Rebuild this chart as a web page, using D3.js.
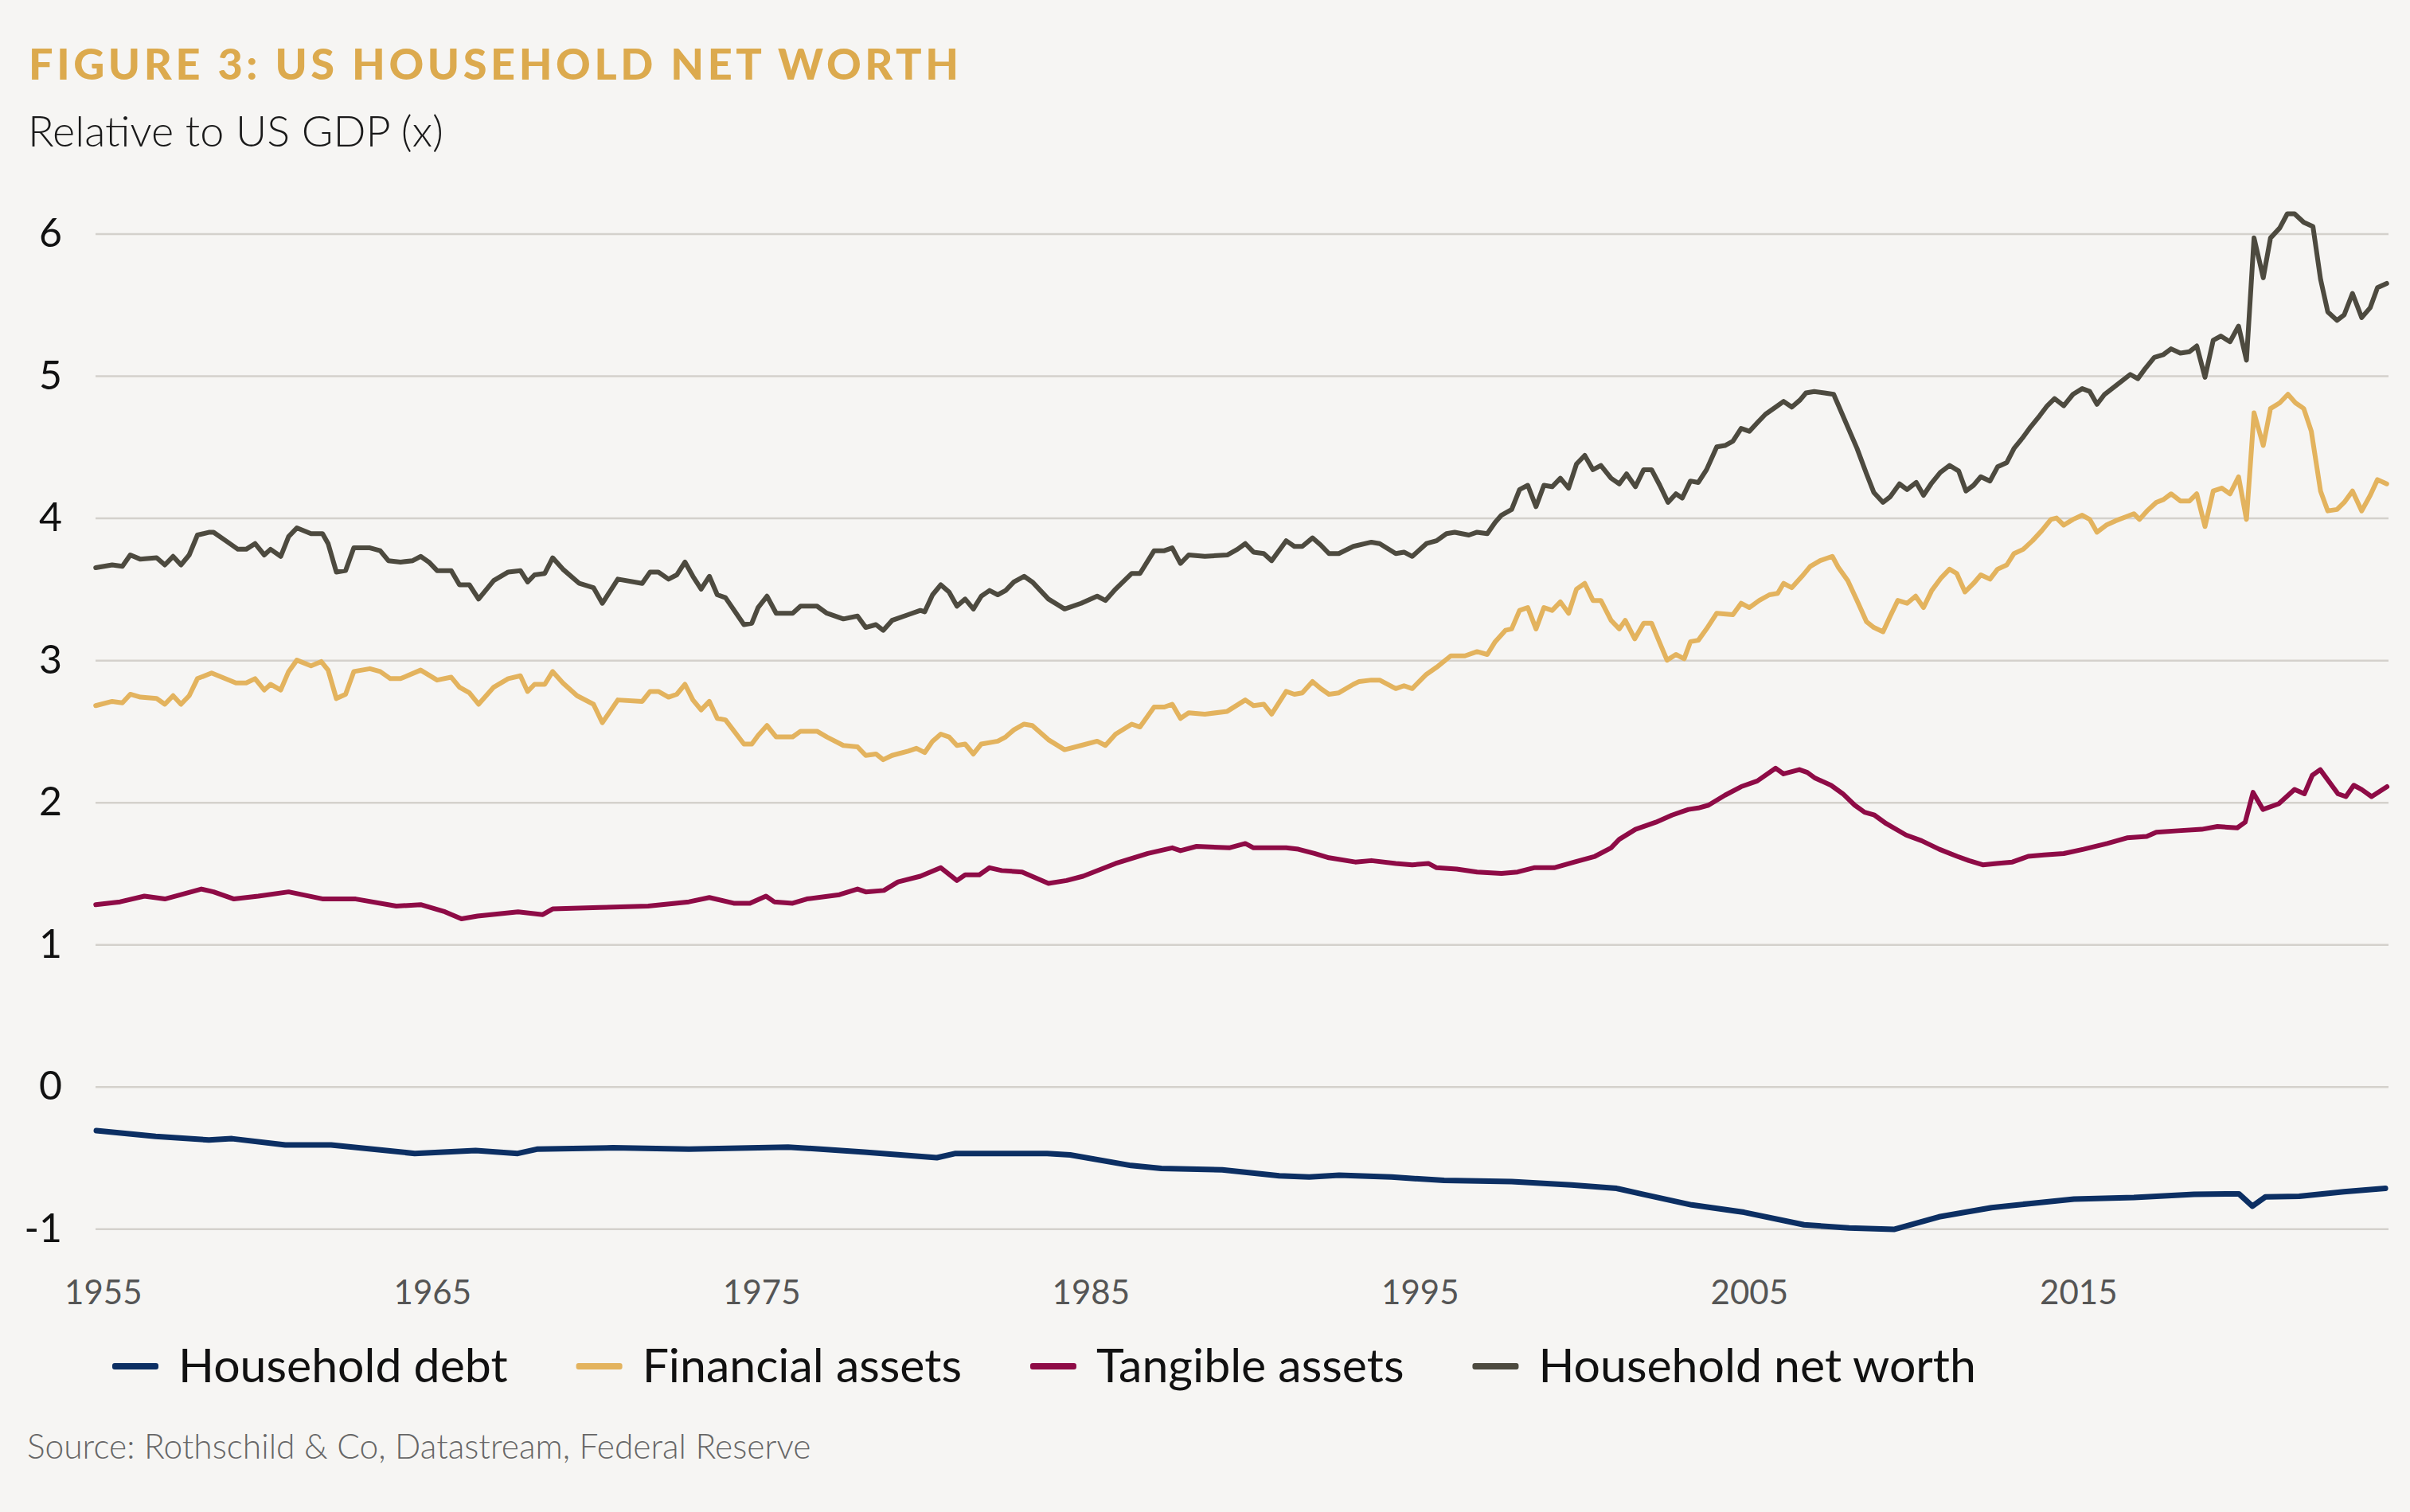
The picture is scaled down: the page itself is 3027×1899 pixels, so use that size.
<!DOCTYPE html>
<html>
<head>
<meta charset="utf-8">
<script src="https://cdn.jsdelivr.net/npm/d3@7"></script>
<style>
  body { margin: 0; background: #f6f5f3; }
  svg { display: block; }
</style>
</head>
<body>
<div class="container"></div>
<script>
const width = 3027;
const height = 1899;

const yTicks = [-1, 0, 1, 2, 3, 4, 5, 6];
const xTicks = [1955, 1965, 1975, 1985, 1995, 2005, 2015];

const seriesNames = ["Household debt", "Financial assets", "Tangible assets", "Household net worth"];
const seriesColors = ["#0c2f63", "#e3b35e", "#8e0b46", "#4d4a3f"];

// [year, multiple of GDP]
const householdDebt = [
  [1954.80,-0.31],[1956.60,-0.35],[1958.22,-0.375],[1958.92,-0.366],[1960.54,-0.41],[1961.93,-0.41],
  [1964.47,-0.47],[1966.32,-0.45],[1967.60,-0.47],[1968.18,-0.44],[1970.49,-0.43],[1972.80,-0.44],
  [1975.81,-0.425],[1978.13,-0.46],[1980.33,-0.50],[1980.90,-0.47],[1983.68,-0.47],[1984.38,-0.48],
  [1986.23,-0.555],[1987.15,-0.575],[1989.00,-0.585],[1990.73,-0.627],[1991.64,-0.636],[1992.55,-0.623],
  [1994.14,-0.636],[1995.74,-0.66],[1997.79,-0.668],[1999.61,-0.692],[2000.98,-0.716],[2001.77,-0.757],
  [2003.26,-0.832],[2004.85,-0.884],[2006.67,-0.972],[2008.04,-0.994],[2009.40,-1.004],[2010.77,-0.916],
  [2012.37,-0.851],[2013.51,-0.823],[2014.87,-0.791],[2016.69,-0.78],[2018.52,-0.757],[2019.88,-0.754],
  [2020.29,-0.841],[2020.68,-0.776],[2021.71,-0.772],[2023.07,-0.739],[2024.33,-0.716]
];

const financialAssets = [
  [1954.78,2.68],[1955.28,2.71],[1955.59,2.70],[1955.83,2.76],[1956.14,2.74],[1956.63,2.73],[1956.88,2.69],
  [1957.13,2.75],[1957.37,2.69],[1957.62,2.75],[1957.87,2.87],[1958.30,2.91],[1959.04,2.84],[1959.35,2.84],
  [1959.62,2.87],[1959.90,2.79],[1960.09,2.83],[1960.40,2.79],[1960.64,2.92],[1960.89,3.00],[1961.32,2.96],
  [1961.63,2.99],[1961.84,2.93],[1962.09,2.73],[1962.37,2.76],[1962.62,2.92],[1963.11,2.94],[1963.42,2.92],
  [1963.73,2.87],[1964.04,2.87],[1964.65,2.93],[1965.15,2.86],[1965.58,2.88],[1965.83,2.81],[1966.13,2.77],
  [1966.41,2.69],[1966.87,2.81],[1967.31,2.87],[1967.68,2.89],[1967.90,2.78],[1968.11,2.83],[1968.42,2.83],
  [1968.66,2.92],[1968.97,2.84],[1969.40,2.75],[1969.90,2.69],[1970.17,2.56],[1970.64,2.72],[1971.38,2.71],
  [1971.62,2.78],[1971.87,2.78],[1972.18,2.74],[1972.43,2.76],[1972.68,2.83],[1972.92,2.72],[1973.17,2.65],
  [1973.42,2.71],[1973.66,2.59],[1973.91,2.58],[1974.47,2.41],[1974.71,2.41],[1974.90,2.47],[1975.17,2.54],
  [1975.45,2.46],[1975.95,2.46],[1976.19,2.50],[1976.69,2.50],[1976.99,2.46],[1977.49,2.40],[1977.92,2.39],
  [1978.17,2.33],[1978.48,2.34],[1978.70,2.30],[1978.97,2.33],[1979.46,2.36],[1979.71,2.38],[1979.96,2.35],
  [1980.20,2.43],[1980.45,2.48],[1980.70,2.46],[1980.94,2.40],[1981.19,2.41],[1981.44,2.34],[1981.68,2.41],
  [1982.18,2.43],[1982.42,2.46],[1982.67,2.51],[1982.98,2.55],[1983.23,2.54],[1983.72,2.44],[1984.21,2.37],
  [1984.71,2.40],[1985.20,2.43],[1985.45,2.40],[1985.76,2.48],[1986.25,2.55],[1986.50,2.53],[1986.93,2.67],
  [1987.24,2.67],[1987.48,2.69],[1987.73,2.59],[1987.98,2.63],[1988.47,2.62],[1989.15,2.64],[1989.70,2.72],
  [1989.95,2.68],[1990.26,2.69],[1990.50,2.62],[1990.94,2.78],[1991.19,2.76],[1991.43,2.77],[1991.74,2.85],
  [1991.99,2.80],[1992.24,2.76],[1992.54,2.77],[1992.98,2.83],[1993.16,2.85],[1993.53,2.86],[1993.78,2.86],
  [1994.27,2.80],[1994.52,2.82],[1994.77,2.80],[1995.20,2.90],[1995.51,2.95],[1995.94,3.03],[1996.37,3.03],
  [1996.74,3.06],[1997.05,3.04],[1997.29,3.13],[1997.60,3.21],[1997.79,3.22],[1998.03,3.35],[1998.28,3.37],
  [1998.53,3.22],[1998.77,3.37],[1999.02,3.35],[1999.27,3.41],[1999.52,3.33],[1999.76,3.50],[2000.01,3.54],
  [2000.26,3.42],[2000.50,3.42],[2000.81,3.28],[2001.06,3.22],[2001.24,3.28],[2001.53,3.15],[2001.80,3.26],
  [2002.04,3.26],[2002.29,3.12],[2002.51,3.00],[2002.78,3.04],[2003.03,3.01],[2003.22,3.13],[2003.46,3.14],
  [2003.71,3.22],[2004.02,3.33],[2004.51,3.32],[2004.76,3.40],[2005.01,3.37],[2005.31,3.42],[2005.62,3.46],
  [2005.87,3.47],[2006.05,3.54],[2006.30,3.51],[2006.61,3.59],[2006.86,3.66],[2007.16,3.70],[2007.53,3.73],
  [2007.72,3.65],[2008.00,3.56],[2008.28,3.42],[2008.57,3.27],[2008.79,3.23],[2009.07,3.20],[2009.29,3.31],
  [2009.52,3.42],[2009.80,3.40],[2010.06,3.45],[2010.30,3.37],[2010.55,3.49],[2010.84,3.58],[2011.09,3.64],
  [2011.31,3.61],[2011.56,3.48],[2011.82,3.54],[2012.04,3.60],[2012.32,3.57],[2012.55,3.64],[2012.83,3.67],
  [2013.05,3.75],[2013.33,3.78],[2013.61,3.84],[2013.89,3.91],[2014.17,3.99],[2014.34,4.00],[2014.56,3.95],
  [2014.84,3.99],[2015.12,4.02],[2015.35,3.99],[2015.57,3.90],[2015.85,3.95],[2016.13,3.98],[2016.47,4.01],
  [2016.69,4.03],[2016.86,3.99],[2017.09,4.05],[2017.37,4.11],[2017.59,4.13],[2017.82,4.17],[2018.10,4.12],
  [2018.38,4.12],[2018.60,4.17],[2018.85,3.94],[2019.10,4.19],[2019.36,4.21],[2019.61,4.17],[2019.87,4.29],
  [2020.11,3.99],[2020.34,4.74],[2020.62,4.51],[2020.84,4.77],[2021.12,4.81],[2021.37,4.87],[2021.60,4.81],
  [2021.85,4.77],[2022.08,4.61],[2022.36,4.19],[2022.58,4.05],[2022.86,4.06],[2023.08,4.11],[2023.33,4.19],
  [2023.61,4.05],[2023.87,4.16],[2024.09,4.27],[2024.37,4.24]
];

const tangibleAssets = [
  [1954.78,1.28],[1955.52,1.30],[1956.26,1.34],[1956.88,1.32],[1957.37,1.35],[1957.99,1.39],[1958.36,1.37],
  [1958.98,1.32],[1959.72,1.34],[1960.64,1.37],[1961.69,1.32],[1962.68,1.32],[1963.91,1.27],[1964.65,1.28],
  [1965.39,1.23],[1965.89,1.18],[1966.38,1.20],[1967.61,1.23],[1968.36,1.21],[1968.66,1.25],[1970.08,1.26],
  [1971.56,1.27],[1972.80,1.30],[1973.42,1.33],[1974.16,1.29],[1974.65,1.29],[1975.14,1.34],[1975.39,1.30],
  [1975.95,1.29],[1976.38,1.32],[1977.37,1.35],[1977.92,1.39],[1978.17,1.37],[1978.72,1.38],[1979.15,1.44],
  [1979.83,1.48],[1980.45,1.54],[1980.94,1.45],[1981.19,1.49],[1981.62,1.49],[1981.93,1.54],[1982.30,1.52],
  [1982.92,1.51],[1983.72,1.43],[1984.27,1.45],[1984.77,1.48],[1985.76,1.57],[1986.74,1.64],[1987.48,1.68],
  [1987.73,1.66],[1988.22,1.69],[1989.21,1.68],[1989.70,1.71],[1989.95,1.68],[1990.94,1.68],[1991.31,1.67],
  [1991.80,1.64],[1992.24,1.61],[1993.04,1.58],[1993.53,1.59],[1994.27,1.57],[1994.77,1.56],[1995.26,1.57],
  [1995.51,1.54],[1996.12,1.53],[1996.74,1.51],[1997.48,1.50],[1997.97,1.51],[1998.47,1.54],[1999.08,1.54],
  [1999.70,1.58],[2000.32,1.62],[2000.81,1.68],[2001.06,1.74],[2001.55,1.81],[2002.17,1.86],[2002.66,1.91],
  [2003.16,1.95],[2003.46,1.96],[2003.77,1.98],[2004.27,2.05],[2004.76,2.11],[2005.25,2.15],[2005.81,2.24],
  [2006.05,2.20],[2006.53,2.23],[2006.77,2.21],[2007.01,2.17],[2007.49,2.12],[2007.85,2.06],[2008.21,1.98],
  [2008.51,1.93],[2008.81,1.91],[2009.17,1.85],[2009.77,1.77],[2010.24,1.73],[2010.78,1.67],[2011.32,1.62],
  [2011.68,1.59],[2012.10,1.56],[2012.52,1.57],[2013.00,1.58],[2013.48,1.62],[2013.96,1.63],[2014.56,1.64],
  [2015.16,1.67],[2015.88,1.71],[2016.48,1.75],[2017.08,1.76],[2017.37,1.79],[2018.03,1.80],[2018.75,1.81],
  [2019.23,1.83],[2019.83,1.82],[2020.07,1.86],[2020.31,2.07],[2020.61,1.95],[2021.09,1.99],[2021.57,2.09],
  [2021.87,2.06],[2022.11,2.19],[2022.35,2.23],[2022.89,2.06],[2023.13,2.04],[2023.37,2.12],[2023.61,2.09],
  [2023.91,2.04],[2024.38,2.11]
];

const netWorth = [
  [1954.78,3.65],[1955.28,3.67],[1955.59,3.66],[1955.83,3.74],[1956.14,3.71],[1956.63,3.72],[1956.88,3.67],
  [1957.13,3.73],[1957.37,3.67],[1957.62,3.74],[1957.87,3.88],[1958.24,3.90],[1958.36,3.90],[1958.73,3.84],
  [1959.10,3.78],[1959.35,3.78],[1959.62,3.82],[1959.90,3.74],[1960.09,3.78],[1960.40,3.73],[1960.64,3.87],
  [1960.89,3.93],[1961.32,3.89],[1961.67,3.89],[1961.84,3.82],[1962.09,3.62],[1962.37,3.63],[1962.62,3.79],
  [1963.11,3.79],[1963.42,3.77],[1963.67,3.70],[1964.04,3.69],[1964.41,3.70],[1964.65,3.73],[1964.90,3.69],
  [1965.15,3.63],[1965.58,3.63],[1965.83,3.53],[1966.13,3.53],[1966.41,3.43],[1966.87,3.56],[1967.31,3.62],
  [1967.68,3.63],[1967.90,3.55],[1968.11,3.60],[1968.42,3.61],[1968.66,3.72],[1968.97,3.64],[1969.47,3.54],
  [1969.90,3.51],[1970.17,3.40],[1970.64,3.57],[1971.38,3.54],[1971.62,3.62],[1971.87,3.62],[1972.18,3.57],
  [1972.43,3.60],[1972.68,3.69],[1972.92,3.59],[1973.17,3.50],[1973.42,3.59],[1973.66,3.46],[1973.91,3.44],
  [1974.47,3.25],[1974.71,3.26],[1974.90,3.37],[1975.17,3.45],[1975.45,3.33],[1975.95,3.33],[1976.19,3.38],
  [1976.69,3.38],[1976.99,3.33],[1977.49,3.29],[1977.92,3.31],[1978.17,3.23],[1978.48,3.25],[1978.70,3.21],
  [1978.97,3.28],[1979.46,3.32],[1979.83,3.35],[1979.96,3.34],[1980.20,3.46],[1980.45,3.53],[1980.70,3.48],
  [1980.94,3.38],[1981.19,3.43],[1981.44,3.36],[1981.68,3.45],[1981.93,3.49],[1982.18,3.46],[1982.42,3.49],
  [1982.67,3.55],[1982.98,3.59],[1983.23,3.55],[1983.72,3.43],[1984.21,3.36],[1984.71,3.40],[1985.20,3.45],
  [1985.45,3.42],[1985.76,3.50],[1986.25,3.61],[1986.50,3.61],[1986.93,3.77],[1987.24,3.77],[1987.48,3.79],
  [1987.73,3.68],[1987.98,3.74],[1988.47,3.73],[1989.15,3.74],[1989.46,3.78],[1989.70,3.82],[1989.95,3.76],
  [1990.26,3.75],[1990.50,3.70],[1990.94,3.84],[1991.19,3.80],[1991.43,3.80],[1991.74,3.86],[1991.99,3.81],
  [1992.24,3.75],[1992.54,3.75],[1992.98,3.80],[1993.53,3.83],[1993.78,3.82],[1994.27,3.75],[1994.52,3.76],
  [1994.77,3.73],[1995.20,3.82],[1995.51,3.84],[1995.81,3.89],[1996.06,3.90],[1996.49,3.88],[1996.74,3.90],
  [1997.05,3.89],[1997.29,3.97],[1997.48,4.02],[1997.79,4.06],[1998.03,4.20],[1998.28,4.23],[1998.53,4.08],
  [1998.77,4.23],[1999.02,4.22],[1999.27,4.28],[1999.52,4.21],[1999.76,4.38],[2000.01,4.44],[2000.26,4.34],
  [2000.50,4.37],[2000.81,4.28],[2001.06,4.24],[2001.28,4.31],[2001.55,4.22],[2001.80,4.34],[2002.04,4.34],
  [2002.29,4.23],[2002.54,4.11],[2002.78,4.17],[2002.97,4.14],[2003.22,4.26],[2003.46,4.25],[2003.71,4.34],
  [2004.02,4.50],[2004.27,4.51],[2004.51,4.54],[2004.76,4.63],[2005.01,4.61],[2005.25,4.67],[2005.50,4.73],
  [2005.81,4.78],[2006.05,4.82],[2006.30,4.78],[2006.55,4.83],[2006.73,4.88],[2006.98,4.89],[2007.29,4.88],
  [2007.57,4.87],[2007.72,4.79],[2008.00,4.64],[2008.28,4.49],[2008.57,4.31],[2008.79,4.18],[2009.07,4.11],
  [2009.29,4.15],[2009.57,4.24],[2009.80,4.20],[2010.08,4.25],[2010.30,4.16],[2010.53,4.24],[2010.81,4.32],
  [2011.09,4.37],[2011.37,4.33],[2011.59,4.19],[2011.82,4.23],[2012.04,4.29],[2012.32,4.26],[2012.55,4.36],
  [2012.83,4.39],[2013.05,4.49],[2013.33,4.57],[2013.55,4.64],[2013.83,4.72],[2014.06,4.79],[2014.28,4.84],
  [2014.56,4.79],[2014.84,4.87],[2015.12,4.91],[2015.35,4.89],[2015.57,4.80],[2015.80,4.87],[2016.08,4.92],
  [2016.36,4.97],[2016.58,5.01],[2016.81,4.98],[2017.03,5.05],[2017.31,5.13],[2017.59,5.15],[2017.82,5.19],
  [2018.10,5.16],[2018.38,5.17],[2018.60,5.21],[2018.85,4.99],[2019.10,5.25],[2019.33,5.28],[2019.61,5.24],
  [2019.87,5.35],[2020.11,5.11],[2020.34,5.97],[2020.62,5.69],[2020.84,5.97],[2021.12,6.04],[2021.35,6.14],
  [2021.57,6.14],[2021.85,6.08],[2022.13,6.05],[2022.36,5.68],[2022.58,5.45],[2022.86,5.39],[2023.08,5.43],
  [2023.33,5.58],[2023.61,5.41],[2023.87,5.48],[2024.09,5.62],[2024.37,5.65]
];

const seriesData = [householdDebt, financialAssets, tangibleAssets, netWorth];

const plotLeft = 120, plotRight = 3000;

const svg = d3.select(".container")
    .append("svg")
    .attr("width", width)
    .attr("height", height)
    .attr("viewBox", [0, 0, width, height])
    .style("font-family", "Lato, 'Noto Sans', sans-serif");

svg.append("rect")
    .attr("width", width)
    .attr("height", height)
    .attr("fill", "#f6f5f3");

const x = d3.scaleLinear()
    .domain([1955, 2015])
    .range([129.3, 2610.3]);

const y = d3.scaleLinear()
    .domain([-1, 6])
    .range([1543.3, 293.5]);

// titles
svg.append("text")
    .attr("x", 36)
    .attr("y", 100)
    .attr("fill", "#dcaa4e")
    .attr("font-size", 54)
    .attr("font-weight", 900)
    .attr("letter-spacing", 4.6)
    .text("FIGURE 3: US HOUSEHOLD NET WORTH");

svg.append("text")
    .attr("x", 35)
    .attr("y", 184)
    .attr("fill", "#1a1a1a")
    .attr("font-size", 54)
    .attr("font-weight", 300)
    .text("Relative to US GDP (x)");

// y grid + labels
const yAxis = svg.append("g")
    .attr("transform", `translate(${plotLeft},0)`)
    .call(d3.axisLeft(y)
        .tickValues(yTicks)
        .tickSize(-(plotRight - plotLeft))
        .tickPadding(42)
        .tickFormat(d => String(d)));

yAxis.select(".domain").remove();
yAxis.selectAll(".tick line")
    .attr("stroke", "#d4d1cc")
    .attr("stroke-width", 2.5);
yAxis.selectAll(".tick text")
    .attr("font-size", 50)
    .attr("font-family", "Lato, sans-serif")
    .attr("fill", "#111");

// x labels
const xAxis = svg.append("g")
    .attr("transform", "translate(0,1600)")
    .call(d3.axisBottom(x)
        .tickValues(xTicks)
        .tickSize(0)
        .tickFormat(d3.format("d")));

xAxis.select(".domain").remove();
xAxis.selectAll(".tick text")
    .attr("y", 38)
    .attr("dy", null)
    .attr("font-size", 42)
    .attr("font-family", "Lato, sans-serif")
    .attr("fill", "#555");

// lines
const line = d3.line()
    .x(d => x(d[0]))
    .y(d => y(d[1]));

svg.append("g")
    .selectAll("path")
    .data(seriesData)
    .join("path")
    .attr("d", line)
    .attr("fill", "none")
    .attr("stroke", (d, i) => seriesColors[i])
    .attr("stroke-width", (d, i) => i === 0 ? 7 : 6)
    .attr("stroke-linejoin", "round")
    .attr("stroke-linecap", "round");

// legend
const legend = svg.append("g").attr("transform", "translate(141,1716)");
let lx = 0;
seriesNames.forEach((name, i) => {
    legend.append("rect")
        .attr("x", lx)
        .attr("y", -4)
        .attr("width", 58)
        .attr("height", 8)
        .attr("rx", 3)
        .attr("fill", seriesColors[i]);
    const t = legend.append("text")
        .attr("x", lx + 83)
        .attr("y", 20)
        .attr("font-size", 59)
        .attr("fill", "#111")
        .text(name);
    lx += 83 + t.node().getComputedTextLength() + 86;
});

svg.append("text")
    .attr("x", 34)
    .attr("y", 1832)
    .attr("font-size", 42.5)
    .attr("font-weight", 300)
    .attr("fill", "#666")
    .text("Source: Rothschild & Co, Datastream, Federal Reserve");
</script>
</body>
</html>
